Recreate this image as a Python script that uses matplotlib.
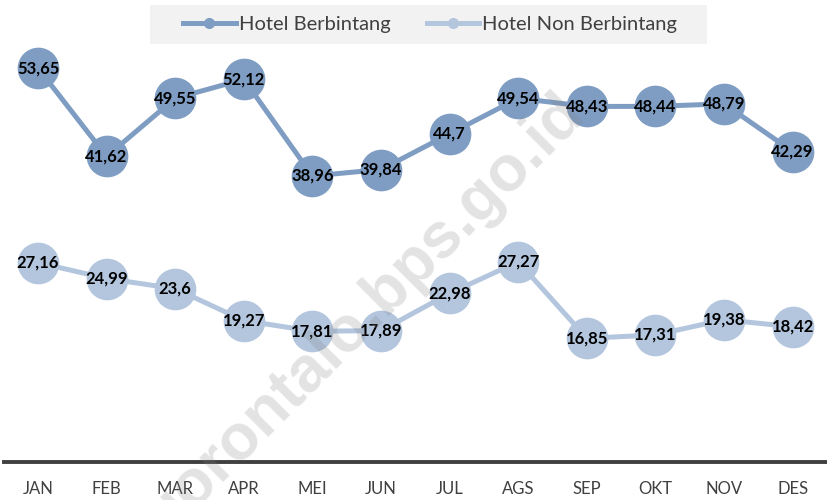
import matplotlib
matplotlib.use('Agg')
import matplotlib.pyplot as plt
from matplotlib.lines import Line2D
from matplotlib.patches import Rectangle

plt.rcParams['font.family'] = ['Lato', 'DejaVu Sans']

months = ['JAN', 'FEB', 'MAR', 'APR', 'MEI', 'JUN', 'JUL', 'AGS', 'SEP', 'OKT', 'NOV', 'DES']
berbintang = [53.65, 41.62, 49.55, 52.12, 38.96, 39.84, 44.70, 49.54, 48.43, 48.44, 48.79, 42.29]
non_berbintang = [27.16, 24.99, 23.60, 19.27, 17.81, 17.89, 22.98, 27.27, 16.85, 17.31, 19.38, 18.42]
label_berbintang = ['53,65', '41,62', '49,55', '52,12', '38,96', '39,84', '44,7', '49,54', '48,43', '48,44', '48,79', '42,29']
label_non = ['27,16', '24,99', '23,6', '19,27', '17,81', '17,89', '22,98', '27,27', '16,85', '17,31', '19,38', '18,42']
series_names = ['Hotel Berbintang', 'Hotel Non Berbintang']

dark = '#7F9DC3'
light = '#B3C6DE'
text_grey = '#404040'

fig = plt.figure(figsize=(8.27, 5), dpi=100)
ax = fig.add_axes([0.0045, 0.076, 0.9955, 0.881])

x = range(len(months))
for vals, labels, col in [(berbintang, label_berbintang, dark), (non_berbintang, label_non, light)]:
    ax.plot(x, vals, color=col, lw=3.6, zorder=2, solid_capstyle='round')
    ax.plot(x, vals, 'o', color=col, markersize=29, zorder=3, clip_on=False)
    for i, v in enumerate(vals):
        ax.text(i, v, labels[i], ha='center', va='center', fontsize=12,
                fontweight='bold', color='black', zorder=4)

ax.set_xlim(-0.5, 11.5)
ax.set_ylim(0, 60)
ax.set_xticks(list(x))
ax.set_xticklabels(months, fontsize=12, color=text_grey)
ax.tick_params(axis='x', length=0, pad=14)
ax.set_yticks([])
for s in ['top', 'left', 'right']:
    ax.spines[s].set_visible(False)
ax.spines['bottom'].set_color(text_grey)
ax.spines['bottom'].set_linewidth(2.8)

# legend background box
fig.patches.append(Rectangle((150 / 827, 1 - 44 / 500), 557 / 827, 39 / 500,
                             transform=fig.transFigure, facecolor='#F2F2F2',
                             edgecolor='none', zorder=0))

handles = [Line2D([0], [0], color=dark, lw=3.6, marker='o', markersize=7),
           Line2D([0], [0], color=light, lw=3.6, marker='o', markersize=7)]
leg = fig.legend(handles, series_names, loc='center', bbox_to_anchor=(0.52, 0.951),
                 ncol=2, frameon=False, fontsize=14.5, handlelength=2.6, handletextpad=0.15,
                 columnspacing=1.8)
for t in leg.get_texts():
    t.set_color(text_grey)

# watermark
fig.text(0.44, 0.37, 'gorontalo.bps.go.id', rotation=45, fontsize=46, fontweight='bold',
         color='grey', alpha=0.22, ha='center', va='center', zorder=10,
         family=['Liberation Sans', 'DejaVu Sans'])

fig.savefig('out.png', dpi=100)
